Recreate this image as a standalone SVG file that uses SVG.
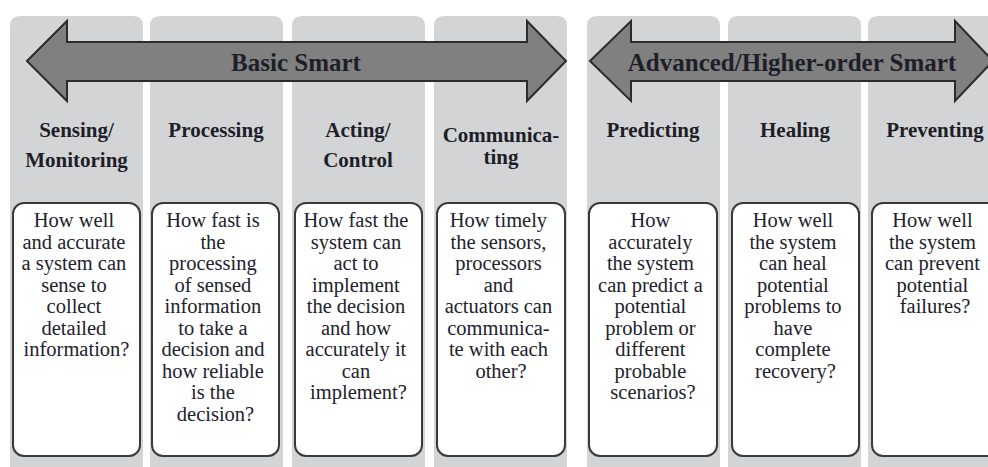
<svg xmlns="http://www.w3.org/2000/svg" width="988" height="467" viewBox="0 0 988 467">
  <style>
    .col { fill: #d3d4d6; }
    .card { fill: #ffffff; stroke: #3a3a3a; stroke-width: 2; }
    .band { fill: #808080; stroke: #2b2b2b; stroke-width: 2; stroke-linejoin: miter; }
    .band-label { font-family: "Liberation Serif", "Times New Roman", serif; font-weight: bold; font-size: 25px; fill: #1e1e28; text-anchor: middle; }
    .head { font-family: "Liberation Serif", "Times New Roman", serif; font-weight: bold; font-size: 21px; fill: #1e1e28; text-anchor: middle; }
    .body { font-family: "Liberation Serif", "Times New Roman", serif; font-size: 20.5px; fill: #22222c; text-anchor: middle; }
  </style>
  <defs>
    <!-- grey column: rounded at the top, runs off the bottom edge -->
    <path id="colShape" d="M0,10 Q0,0 10,0 H123 Q133,0 133,10 V470 H0 Z"/>
  </defs>
  <rect width="988" height="467" fill="#ffffff"/>

  <!-- grey column backgrounds -->
  <g id="columns">
    <use href="#colShape" class="col" x="10" y="16"/>
    <use href="#colShape" class="col" x="150" y="16"/>
    <use href="#colShape" class="col" x="292" y="16"/>
    <use href="#colShape" class="col" x="434" y="16"/>
    <use href="#colShape" class="col" x="587" y="16"/>
    <use href="#colShape" class="col" x="728" y="16"/>
    <use href="#colShape" class="col" x="868" y="16"/>
  </g>

  <!-- double-headed band arrows -->
  <g id="connectors">
    <g id="basic-smart">
      <polygon class="band" points="27,61 67,21 67,42 527,42 527,21 566,61 527,101 527,81 67,81 67,101"/>
      <text class="band-label" x="296" y="71">Basic Smart</text>
    </g>
    <g id="advanced-smart">
      <polygon class="band" points="590,61 631,21 631,42 955,42 955,21 993,61 955,101 955,81 631,81 631,101"/>
      <text class="band-label" x="792" y="71">Advanced/Higher-order Smart</text>
    </g>
  </g>

  <g id="sensing">
    <text class="head" x="76.5" y="137">Sensing/</text>
    <text class="head" x="76.5" y="167">Monitoring</text>
    <rect class="card" x="13" y="203" width="127" height="253" rx="11"/>
    <text class="body" x="76.5" y="227">
      <tspan x="76.5">How well</tspan>
      <tspan x="76.5" dy="21.5">and accurate</tspan>
      <tspan x="76.5" dy="21.5">a system can</tspan>
      <tspan x="76.5" dy="21.5">sense to</tspan>
      <tspan x="76.5" dy="21.5">collect</tspan>
      <tspan x="76.5" dy="21.5">detailed</tspan>
      <tspan x="76.5" dy="21.5">information?</tspan>
    </text>
  </g>

  <g id="processing">
    <text class="head" x="216" y="137">Processing</text>
    <rect class="card" x="152" y="203" width="127" height="253" rx="11"/>
    <text class="body" x="215.5" y="227">
      <tspan x="215.5">How fast is</tspan>
      <tspan x="215.5" dy="21.5">the</tspan>
      <tspan x="215.5" dy="21.5">processing</tspan>
      <tspan x="215.5" dy="21.5">of sensed</tspan>
      <tspan x="215.5" dy="21.5">information</tspan>
      <tspan x="215.5" dy="21.5">to take a</tspan>
      <tspan x="215.5" dy="21.5">decision and</tspan>
      <tspan x="215.5" dy="21.5">how reliable</tspan>
      <tspan x="215.5" dy="21.5">is the</tspan>
      <tspan x="215.5" dy="21.5">decision?</tspan>
    </text>
  </g>

  <g id="acting">
    <text class="head" x="358" y="137">Acting/</text>
    <text class="head" x="358" y="167">Control</text>
    <rect class="card" x="295" y="203" width="127" height="253" rx="11"/>
    <text class="body" x="358.5" y="227">
      <tspan x="358.5">How fast the</tspan>
      <tspan x="358.5" dy="21.5">system can</tspan>
      <tspan x="358.5" dy="21.5">act to</tspan>
      <tspan x="358.5" dy="21.5">implement</tspan>
      <tspan x="358.5" dy="21.5">the decision</tspan>
      <tspan x="358.5" dy="21.5">and how</tspan>
      <tspan x="358.5" dy="21.5">accurately it</tspan>
      <tspan x="358.5" dy="21.5">can</tspan>
      <tspan x="358.5" dy="21.5">implement?</tspan>
    </text>
  </g>

  <g id="communicating">
    <text class="head" x="501" y="142">Communica-</text>
    <text class="head" x="501" y="164">ting</text>
    <rect class="card" x="437" y="203" width="128" height="253" rx="11"/>
    <text class="body" x="501" y="227">
      <tspan x="501">How timely</tspan>
      <tspan x="501" dy="21.5">the sensors,</tspan>
      <tspan x="501" dy="21.5">processors</tspan>
      <tspan x="501" dy="21.5">and</tspan>
      <tspan x="501" dy="21.5">actuators can</tspan>
      <tspan x="501" dy="21.5">communica-</tspan>
      <tspan x="501" dy="21.5">te with each</tspan>
      <tspan x="501" dy="21.5">other?</tspan>
    </text>
  </g>

  <g id="predicting">
    <text class="head" x="653" y="137">Predicting</text>
    <rect class="card" x="589" y="203" width="128" height="253" rx="11"/>
    <text class="body" x="653" y="227">
      <tspan x="653">How</tspan>
      <tspan x="653" dy="21.5">accurately</tspan>
      <tspan x="653" dy="21.5">the system</tspan>
      <tspan x="653" dy="21.5">can predict a</tspan>
      <tspan x="653" dy="21.5">potential</tspan>
      <tspan x="653" dy="21.5">problem or</tspan>
      <tspan x="653" dy="21.5">different</tspan>
      <tspan x="653" dy="21.5">probable</tspan>
      <tspan x="653" dy="21.5">scenarios?</tspan>
    </text>
  </g>

  <g id="healing">
    <text class="head" x="795" y="137">Healing</text>
    <rect class="card" x="732" y="203" width="127" height="253" rx="11"/>
    <text class="body" x="795.5" y="227">
      <tspan x="795.5">How well</tspan>
      <tspan x="795.5" dy="21.5">the system</tspan>
      <tspan x="795.5" dy="21.5">can heal</tspan>
      <tspan x="795.5" dy="21.5">potential</tspan>
      <tspan x="795.5" dy="21.5">problems to</tspan>
      <tspan x="795.5" dy="21.5">have</tspan>
      <tspan x="795.5" dy="21.5">complete</tspan>
      <tspan x="795.5" dy="21.5">recovery?</tspan>
    </text>
  </g>

  <g id="preventing">
    <text class="head" x="935" y="137">Preventing</text>
    <rect class="card" x="872" y="203" width="127" height="253" rx="11"/>
    <text class="body" x="935" y="227">
      <tspan x="935">How well</tspan>
      <tspan x="935" dy="21.5">the system</tspan>
      <tspan x="935" dy="21.5">can prevent</tspan>
      <tspan x="935" dy="21.5">potential</tspan>
      <tspan x="935" dy="21.5">failures?</tspan>
    </text>
  </g>
</svg>
